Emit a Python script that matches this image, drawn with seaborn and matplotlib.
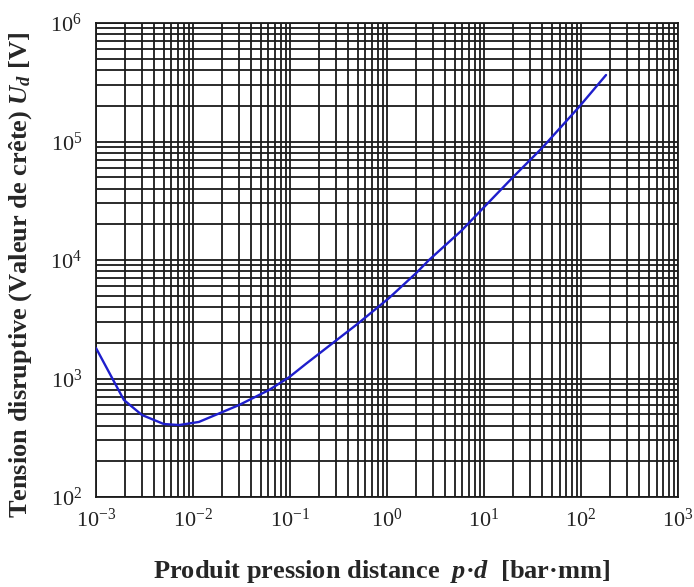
#Paschen curve - tension disruptive vs produit pression distance

# Load Packages=====================================================================================
import pandas as pd
import seaborn as sns
import matplotlib
matplotlib.use("Agg")
import matplotlib.pyplot as plt
from matplotlib.ticker import LogLocator, NullFormatter


# Data==============================================================================================
pd_barmm = [1e-3, 1.94e-3, 2.98e-3, 5.0e-3, 7.2e-3, 1.15e-2, 2.98e-2, 6.08e-2, 0.098,
            0.146, 0.51, 1.05, 2.0, 2.71, 5.9, 10.5, 19.5, 39.6, 95, 181]
ud_volt = [1810, 659, 492, 413, 405, 430, 597, 800, 1026,
           1330, 2940, 4780, 7770, 10000, 17800, 29100, 49200, 88100, 195000, 364000]

x_ticks = [1e-3, 1e-2, 1e-1, 1e0, 1e1, 1e2, 1e3]
x_ticklabels = ['10$^{-3}$', '10$^{-2}$', '10$^{-1}$', '10$^{0}$', '10$^{1}$', '10$^{2}$', '10$^{3}$']
y_ticks = [1e2, 1e3, 1e4, 1e5, 1e6]
y_ticklabels = ['10$^{2}$', '10$^{3}$', '10$^{4}$', '10$^{5}$', '10$^{6}$']

df = pd.DataFrame({'pd': pd_barmm, 'ud': ud_volt})


# Style=============================================================================================
sns.set_style("white")
plt.rcParams['font.family'] = ['Liberation Serif', 'DejaVu Serif']
plt.rcParams['mathtext.fontset'] = 'custom'
plt.rcParams['mathtext.rm'] = 'Liberation Serif'
plt.rcParams['mathtext.it'] = 'Liberation Serif:italic:bold'
plt.rcParams['mathtext.bf'] = 'Liberation Serif:bold'


# Plot==============================================================================================
fig = plt.figure(figsize=(6.94, 5.87), dpi=100)
ax = fig.add_axes([0.1383, 0.1533, 0.8387, 0.8075])

sns.lineplot(x='pd', y='ud', data=df, color='#1e1ecc', linewidth=1.7, ax=ax, zorder=3)

ax.set_xscale('log')
ax.set_yscale('log')
ax.set_xlim(1e-3, 1e3)
ax.set_ylim(1e2, 1e6)

#ticks and labels
ax.set_xticks(x_ticks)
ax.set_xticklabels(x_ticklabels)
ax.set_yticks(y_ticks)
ax.set_yticklabels(y_ticklabels)
ax.xaxis.set_minor_locator(LogLocator(base=10, subs=range(2, 10), numticks=20))
ax.yaxis.set_minor_locator(LogLocator(base=10, subs=range(2, 10), numticks=20))
ax.xaxis.set_minor_formatter(NullFormatter())
ax.yaxis.set_minor_formatter(NullFormatter())
ax.tick_params(axis='both', which='both', length=0, labelsize=16, colors='#222222')
ax.tick_params(axis='x', pad=8)
ax.tick_params(axis='y', pad=10)

#grid
ax.grid(which='both', color='#1a1a1a', linewidth=1.3)
for s in ax.spines.values():
  s.set_color('#1a1a1a')
  s.set_linewidth(1.3)

#axis labels
ax.set_xlabel('Produit pression distance  $p$·$d$  [bar·mm]', fontsize=19, fontweight='bold')
ax.set_ylabel('Tension disruptive (Valeur de crête) $U_d$ [V]', fontsize=19, fontweight='bold')
ax.xaxis.set_label_coords(0.491, -0.158)
ax.xaxis.label.set_va('center')
ax.yaxis.set_label_coords(-0.13, 0.468)
ax.yaxis.label.set_va('center')

fig.savefig('out.png', dpi=100)
plt.close()
